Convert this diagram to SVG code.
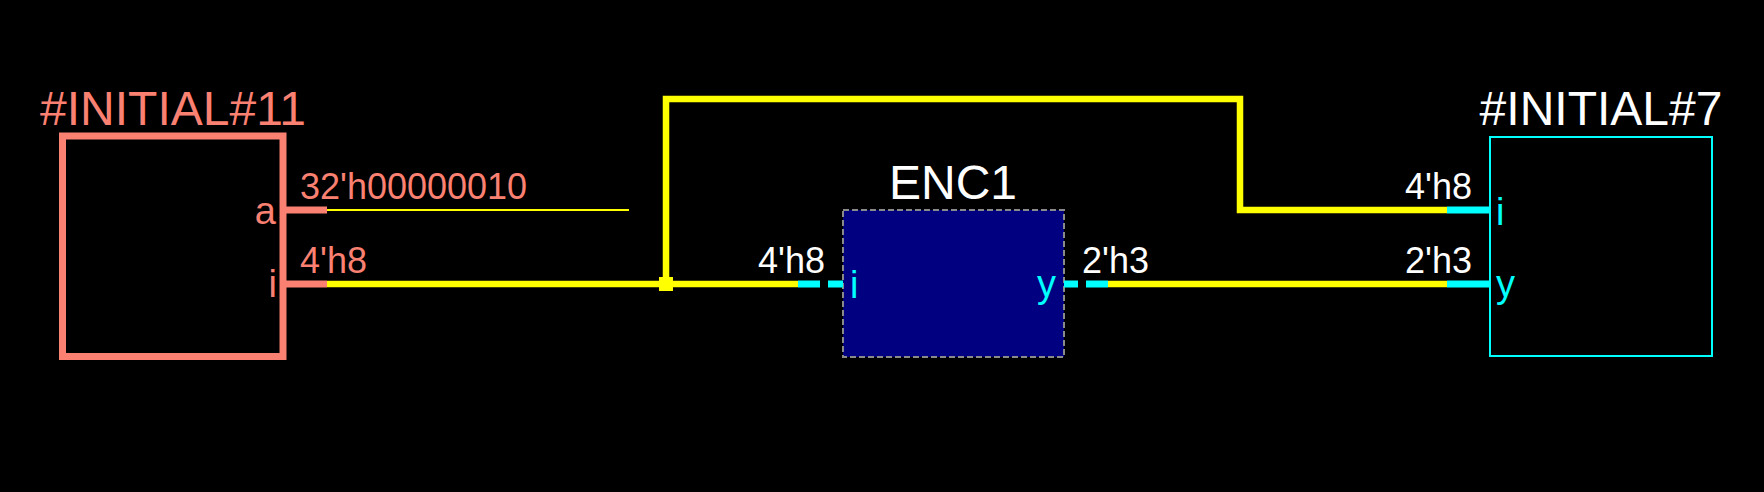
<svg xmlns="http://www.w3.org/2000/svg" width="1764" height="492" viewBox="0 0 1764 492">
  <style>
    text { font-family: "Liberation Sans", Arial, sans-serif; }
    .title { font-size: 48px; text-anchor: middle; }
    .lbl { font-size: 36px; }
    .pin { font-size: 38px; fill: #00ffff; }
    .wire { fill: none; stroke: #ffff00; stroke-width: 6.5; stroke-linejoin: miter; }
    .thin { fill: none; stroke: #ffff00; stroke-width: 2; }
    .cpin { stroke: #00ffff; stroke-width: 7; }
    .spin { stroke: #fa8072; stroke-width: 7; }
    .dpin { stroke: #00ffff; stroke-width: 7; stroke-dasharray: 22 8; }
  </style>
  <rect x="0" y="0" width="1764" height="492" fill="#000000"/>

  <g id="connectors">
    <line class="thin" x1="327" y1="210" x2="629" y2="210"/>
    <line class="wire" x1="327" y1="284" x2="798" y2="284"/>
    <path class="wire" d="M666,284 V99 H1240 V210 H1447"/>
    <line class="wire" x1="1108" y1="284" x2="1447" y2="284"/>
    <rect x="659" y="277" width="14" height="14" fill="#ffff00"/>
    <text class="lbl" x="300" y="199" fill="#fa8072">32'h00000010</text>
    <text class="lbl" x="300" y="273" fill="#fa8072">4'h8</text>
    <text class="lbl" x="825" y="273" fill="#ffffff" text-anchor="end">4'h8</text>
    <text class="lbl" x="1082" y="273" fill="#ffffff">2'h3</text>
    <text class="lbl" x="1472" y="199" fill="#ffffff" text-anchor="end">4'h8</text>
    <text class="lbl" x="1472" y="273" fill="#ffffff" text-anchor="end">2'h3</text>
  </g>

  <g id="initial11">
    <rect x="62.5" y="136" width="220.5" height="220.5" fill="none" stroke="#fa8072" stroke-width="7"/>
    <line class="spin" x1="286" y1="210" x2="327" y2="210"/>
    <line class="spin" x1="286" y1="284" x2="327" y2="284"/>
    <text class="title" x="173" y="125" fill="#fa8072">#INITIAL#11</text>
    <text class="pin" x="276" y="224" fill="#fa8072" style="fill:#fa8072" text-anchor="end">a</text>
    <text class="pin" x="277" y="297" style="fill:#fa8072" text-anchor="end">i</text>
  </g>

  <g id="enc1">
    <rect x="843" y="210" width="221" height="147" fill="#000080" stroke="#8a8a8a" stroke-width="2" stroke-dasharray="6 3"/>
    <line class="dpin" x1="798" y1="284" x2="843" y2="284"/>
    <line class="dpin" x1="1108" y1="284" x2="1064" y2="284"/>
    <text class="title" x="953" y="199" fill="#ffffff">ENC1</text>
    <text class="pin" x="850" y="298">i</text>
    <text class="pin" x="1056" y="297" text-anchor="end">y</text>
  </g>

  <g id="initial7">
    <rect x="1490" y="137" width="222" height="219" fill="none" stroke="#00ffff" stroke-width="2"/>
    <line class="cpin" x1="1447" y1="210" x2="1490" y2="210"/>
    <line class="cpin" x1="1447" y1="284" x2="1490" y2="284"/>
    <text class="title" x="1601" y="125" fill="#ffffff">#INITIAL#7</text>
    <text class="pin" x="1496" y="225">i</text>
    <text class="pin" x="1496" y="297">y</text>
  </g>
</svg>
